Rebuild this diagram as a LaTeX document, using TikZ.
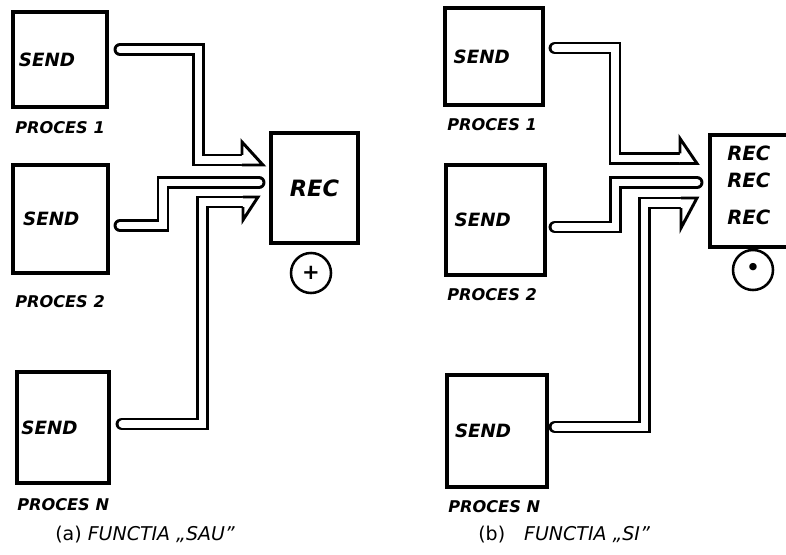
\documentclass[tikz,border=0pt]{standalone}
\usepackage{fontspec}
\setmainfont{DejaVu Sans}
\usetikzlibrary{positioning}

\begin{document}
\begin{tikzpicture}[x=0.025cm, y=0.025cm,
  proc/.style={
    draw, line width=2.6pt, inner sep=0pt, outer sep=0pt
  },
  txt/.style={font=\fontsize{13}{15}\selectfont\bfseries\itshape, inner sep=0pt},
  rtxt/.style={font=\fontsize{14}{16}\selectfont\bfseries\itshape, inner sep=0pt, anchor=west},
  lbl/.style={font=\fontsize{11.5}{13}\selectfont\bfseries\itshape, inner sep=0pt, anchor=west},
  chan/.style={double, double distance=5pt, line width=2.1pt, line cap=round, line join=miter},
  arrhead/.style={draw, fill=white, line width=2.1pt, line join=miter},
  gate/.style={circle, draw, line width=1.8pt, minimum size=1cm, inner sep=0pt},
  capt/.style={font=\fontsize{13.5}{15}\selectfont, anchor=west, inner sep=0pt}
]
\useasboundingbox (0,0) rectangle (786,554);
\clip (0,0) rectangle (786,554);

% (a) functia SAU
\node[proc, minimum width=2.35cm, minimum height=2.375cm] (s1) at (60,494.5) {};
\node[proc, minimum width=2.375cm, minimum height=2.7cm] (s2) at (60.5,335) {};
\node[proc, minimum width=2.3cm, minimum height=2.775cm] (sn) at (63,126.5) {};

\node[txt, right=4pt of s1.west] (s1t) {SEND};
\node[txt, right=7pt of s2.west] (s2t) {SEND};
\node[txt, right=3pt of sn.west] (snt) {SEND};

\node[lbl] (s1l) at (15,426) {PROCES 1};
\node[lbl] (s2l) at (15,252) {PROCES 2};
\node[lbl] (snl) at (17,49) {PROCES N};

\node[proc, minimum width=2.175cm, minimum height=2.75cm,
  font=\fontsize{16}{18}\selectfont\bfseries\itshape] (rec) at (314.5,366) {REC};
\node[gate, font=\fontsize{15}{17}\selectfont\bfseries] (sau) at (311,281) {+};

% (a) channels
\draw[chan] ([shift={(13,10)}]s1.east) -| ([shift={(-72.5,28)}]rec.west)
  -- ([shift={(-29,28)}]rec.west);
\draw[arrhead] ([shift={(-29,33)}]rec.west) -- ++(0,13) -- ++(21,-23) -- ++(-21,0);
\draw[chan] ([shift={(12,-6.5)}]s2.east) -| ([shift={(-108,5.5)}]rec.west)
  -- ([shift={(-12,5.5)}]rec.west);
\draw[chan] ([shift={(13,3.5)}]sn.east) -| ([shift={(-68.5,-14)}]rec.west)
  -- ([shift={(-28,-14)}]rec.west);
\draw[arrhead] ([shift={(-28,-19)}]rec.west) -- ++(0,-13) -- ++(15,23) -- ++(-15,0);

\node[capt] (capa) at (55,19) {(a) \textit{FUNCTIA „SAU”}};

% (b) functia SI
\node[proc, minimum width=2.45cm, minimum height=2.425cm] (t1) at (494,497.5) {};
\node[proc, minimum width=2.475cm, minimum height=2.75cm] (t2) at (495.5,334) {};
\node[proc, minimum width=2.5cm, minimum height=2.8cm] (tn) at (497,123) {};

\node[txt, right=6pt of t1.west] (t1t) {SEND};
\node[txt, right=6pt of t2.west] (t2t) {SEND};
\node[txt, right=5.5pt of tn.west] (tnt) {SEND};

\node[lbl] (t1l) at (447,429) {PROCES 1};
\node[lbl] (t2l) at (447,259) {PROCES 2};
\node[lbl] (tnl) at (448,47) {PROCES N};

\node[proc, minimum width=3cm, minimum height=2.8cm] (rec2) at (770,363) {};
\node[rtxt] (r1) at (727,401) {REC};
\node[rtxt] (r2) at (727,374) {REC};
\node[rtxt] (r3) at (727,337) {REC};
\node[gate, font=\fontsize{18}{20}\selectfont] (si) at (753,284) {•};

% (b) channels
\draw[chan] ([shift={(12,8.5)}]t1.east) -| ([shift={(-95,32.5)}]rec2.west)
  -- ([shift={(-30,32.5)}]rec2.west);
\draw[arrhead] ([shift={(-30,37.5)}]rec2.west) -- ++(0,15) -- ++(17,-25) -- ++(-17,0);
\draw[chan] ([shift={(10,-7)}]t2.east) -| ([shift={(-94.5,8.5)}]rec2.west)
  -- ([shift={(-13,8.5)}]rec2.west);
\draw[chan] ([shift={(8,4)}]tn.east) -| ([shift={(-65.5,-12)}]rec2.west)
  -- ([shift={(-29,-12)}]rec2.west);
\draw[arrhead] ([shift={(-29,-17)}]rec2.west) -- ++(0,-20) -- ++(16,30) -- ++(-16,0);

\node[capt] (capb) at (478,19) {(b)\quad \textit{FUNCTIA „SI”}};
\end{tikzpicture}
\end{document}
